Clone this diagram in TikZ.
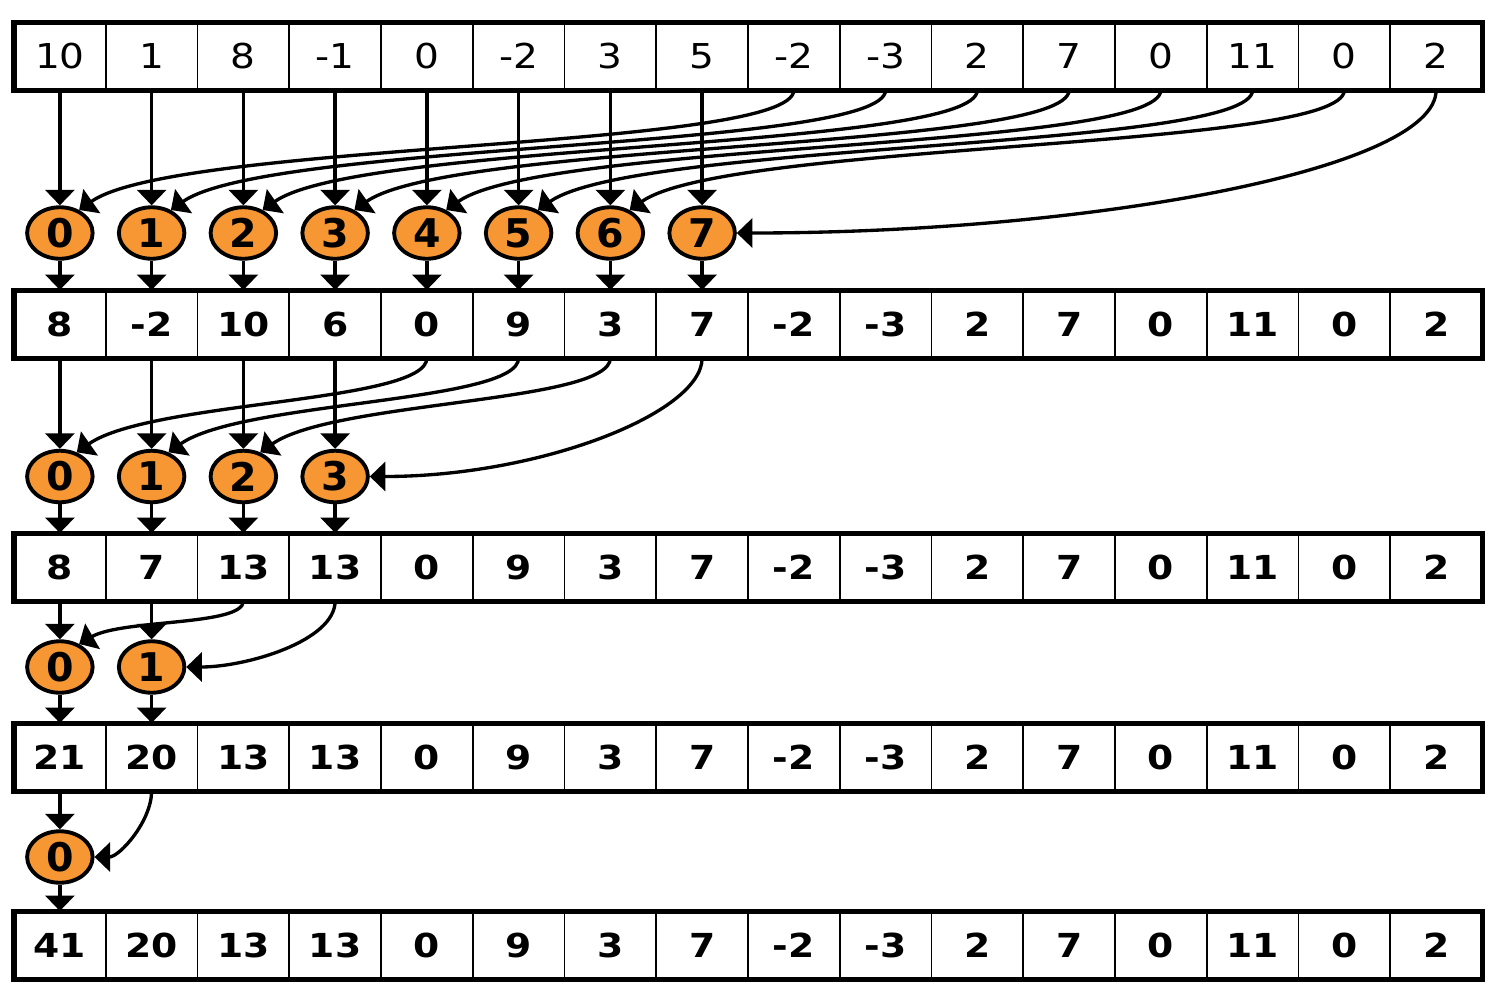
\documentclass[tikz,border=0pt]{standalone}
\usepackage{fontspec}
\setmainfont{DejaVu Sans}[FakeStretch=1.14]
\newfontfamily\ballfont{DejaVu Sans}
\usepackage{tikz}
\usetikzlibrary{shapes.geometric}
\usetikzlibrary{positioning,arrows.meta}
\definecolor{ballorange}{RGB}{247,151,51}

\begin{document}
\begin{tikzpicture}

    \tikzstyle{cell}=[draw,outer sep=0pt,line width=1.1pt,minimum width=1.835cm,minimum height=1.36cm,inner sep=0pt,font=\fontsize{19.5}{23}\selectfont]
    \tikzstyle{boldcell}=[cell,font=\fontsize{18.8}{23}\selectfont\bfseries]
    \tikzstyle{ball}=[ellipse,draw,fill=ballorange,line width=2.2pt,minimum width=1.31cm,minimum height=1.03cm,inner sep=0pt,font=\ballfont\fontsize{22.5}{25}\selectfont\bfseries]
    \tikzstyle{arr}=[line width=1.9pt,-{Triangle[width=0.58cm,length=0.31cm]}]
    \tikzstyle{frame}=[line width=2.85pt]

    \useasboundingbox (0,0) rectangle (29.96,-20.02);
    \coordinate (origo) at (0,0);

% the five arrays
\foreach \v [count=\i from 0] in {10,1,8,-1,0,-2,3,5,-2,-3,2,7,0,11,0,2}
    \node (r0c\i) [cell] at ({0.28+1.835*(\i+0.5)},-1.12) {\v};
\foreach \v [count=\i from 0] in {8,-2,10,6,0,9,3,7,-2,-3,2,7,0,11,0,2}
    \node (r1c\i) [boldcell] at ({0.28+1.835*(\i+0.5)},-6.48) {\v};
\foreach \v [count=\i from 0] in {8,7,13,13,0,9,3,7,-2,-3,2,7,0,11,0,2}
    \node (r2c\i) [boldcell] at ({0.28+1.835*(\i+0.5)},-11.34) {\v};
\foreach \v [count=\i from 0] in {21,20,13,13,0,9,3,7,-2,-3,2,7,0,11,0,2}
    \node (r3c\i) [boldcell] at ({0.28+1.835*(\i+0.5)},-15.14) {\v};
\foreach \v [count=\i from 0] in {41,20,13,13,0,9,3,7,-2,-3,2,7,0,11,0,2}
    \node (r4c\i) [boldcell] at ({0.28+1.835*(\i+0.5)},-18.90) {\v};

\foreach \r in {0,...,4}
    \draw[frame] (r\r c0.north west) rectangle (r\r c15.south east);

% the threads
\foreach \i in {0,...,7}
    \node (a\i) [ball] at ({0.28+1.835*(\i+0.5)},-4.66) {\i};
\foreach \i in {0,...,3}
    \node (b\i) [ball] at ({0.28+1.835*(\i+0.5)},-9.53) {\i};
\foreach \i in {0,1}
    \node (c\i) [ball] at ({0.28+1.835*(\i+0.5)},-13.34) {\i};
\node (d0) [ball] at (1.1975,-17.14) {0};

% step 1
\foreach \i in {0,...,7} {
    \draw[arr] (r0c\i) -- (a\i);
    \draw[arr] (a\i) -- (r1c\i);
}
\foreach \i/\j in {0/8,1/9,2/10,3/11,4/12,5/13,6/14}
    \draw[arr] (r0c\j.south) to[out=-90,in=35,out distance=1.2cm,in distance=2.4cm] (a\i.50);
\draw[arr] (r0c15.south) to[out=-90,in=0,out distance=1.6cm,in distance=7cm] (a7.east);

% step 2
\foreach \i in {0,...,3} {
    \draw[arr] (r1c\i) -- (b\i);
    \draw[arr] (b\i) -- (r2c\i);
}
\foreach \i/\j in {0/4,1/5,2/6}
    \draw[arr] (r1c\j.south) to[out=-90,in=35,out distance=0.9cm,in distance=1.8cm] (b\i.55);
\draw[arr] (r1c7.south) to[out=-90,in=0,out distance=1.1cm,in distance=3.4cm] (b3.east);

% step 3
\foreach \i in {0,1} {
    \draw[arr] (r2c\i) -- (c\i);
    \draw[arr] (c\i) -- (r3c\i);
}
\draw[arr] (r2c2.south) to[out=-90,in=30,out distance=0.5cm,in distance=1cm] (c0.50);
\draw[arr] (r2c3.south) to[out=-90,in=0,out distance=0.8cm,in distance=1.2cm] (c1.east);

% step 4
\draw[arr] (r3c0) -- (d0);
\draw[arr] (d0) -- (r4c0);
\draw[arr] (r3c1.south) to[out=-90,in=0,out distance=0.6cm,in distance=0.5cm] (d0.east);

\end{tikzpicture}
\end{document}
